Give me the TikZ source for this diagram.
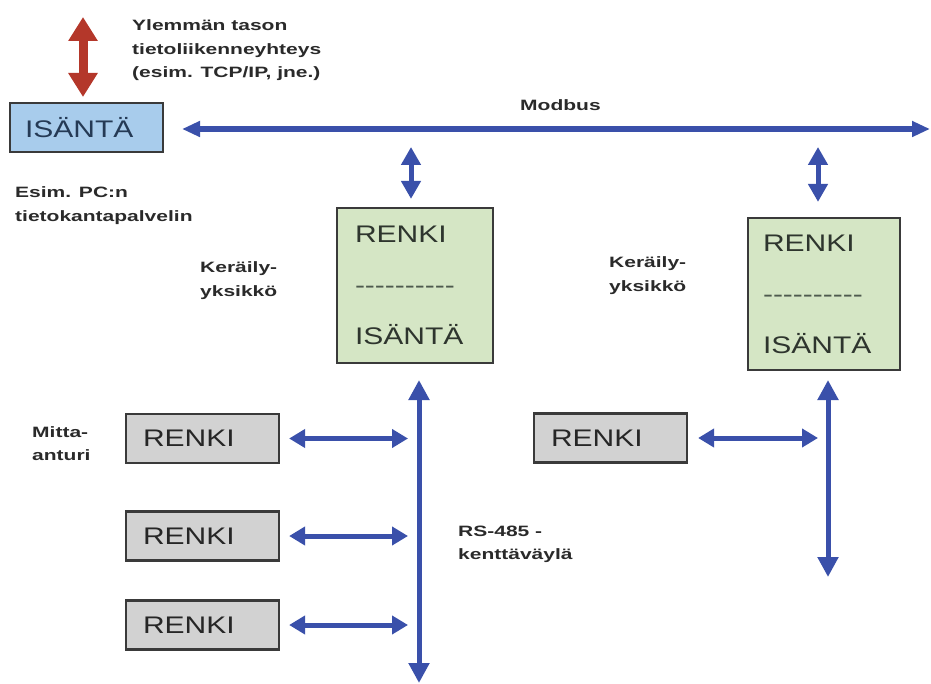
\documentclass[tikz,border=0pt]{standalone}
\usepackage{fontspec}
\setmainfont{Liberation Sans}
\newfontfamily\boxfont[FakeStretch=1.25]{Liberation Sans}
\newfontfamily\labfont[FakeStretch=1.4]{Liberation Sans}
\usetikzlibrary{arrows.meta}
\definecolor{busblue}{HTML}{3A50AA}
\definecolor{redarr}{HTML}{B4372A}
\definecolor{hostfill}{HTML}{A8CCEC}
\definecolor{hosttext}{HTML}{253A55}
\definecolor{greenfill}{HTML}{D5E6C5}
\definecolor{greentext}{HTML}{2E352E}
\definecolor{dashcol}{HTML}{4E5A4E}
\definecolor{grayfill}{HTML}{D2D2D2}
\definecolor{boxborder}{HTML}{3A3A3A}
\definecolor{labcol}{HTML}{2A2A2A}
\tikzset{
  boxbase/.style={draw=boxborder, line width=2.2pt, rectangle, align=left, inner ysep=0pt},
  hostbox/.style={boxbase, fill=hostfill, text=hosttext, font=\boxfont\fontsize{24}{29}\selectfont},
  greenbox/.style={boxbase, fill=greenfill, text=greentext, font=\boxfont\fontsize{24}{51}\selectfont},
  slavebox/.style={boxbase, fill=grayfill, text=black!85, font=\boxfont\fontsize{24}{29}\selectfont,
    minimum width=153pt, minimum height=49pt, text width=119pt, inner xsep=17pt},
  lab/.style={inner sep=0pt, text=labcol, anchor=base west, font=\labfont\bfseries\fontsize{15}{23.5}\selectfont},
  bus/.style={draw=busblue, line width=5pt, >={Triangle[width=18pt,length=16pt]}, <->},
  modbusline/.style={draw=busblue, line width=6pt, >={Triangle[width=15pt,length=18pt]}, <->},
  stub/.style={draw=busblue, line width=5pt, >={Triangle[width=19pt,length=18pt]}, <->},
  rsline/.style={draw=busblue, line width=5pt, >={Triangle[width=20pt,length=20pt]}, <->},
  uplink/.style={draw=redarr, line width=9pt, >={Triangle[width=28pt,length=24pt]}, <->},
}
\begin{document}
\begin{tikzpicture}[x=1pt,y=-1pt]
\useasboundingbox[fill=white] (0,0) rectangle (931,684);

% boxes
\node[hostbox, minimum width=153pt, minimum height=49pt, text width=123pt, inner xsep=15pt] (isanta) at (86.5,127.5) {ISÄNTÄ};
\node[greenbox, minimum width=156pt, minimum height=155pt, text width=120pt, inner xsep=18pt] (g1) at (415,285.5)
  {RENKI\\{\color{dashcol}----------}\\ISÄNTÄ};
\node[greenbox, minimum width=152pt, minimum height=152pt, text width=122pt, inner xsep=15pt] (g2) at (824,294)
  {RENKI\\{\color{dashcol}----------}\\ISÄNTÄ};
\node[slavebox] (r1) at (202.5,438.5) {RENKI};
\node[slavebox] (r2) at (202.5,536) {RENKI};
\node[slavebox] (r3) at (202.5,625) {RENKI};
\node[slavebox] (r4) at (610.5,438) {RENKI};

% labels
\node[lab] (ylem) at (132,31) {\begin{tabular}[t]{@{}l@{}}Ylemmän tason\\tietoliikenneyhteys\\(esim. TCP/IP, jne.)\end{tabular}};
\node[lab] (modbus) at (520,111) {Modbus};
\node[lab] (esim) at (15,198) {\begin{tabular}[t]{@{}l@{}}Esim. PC:n\\tietokantapalvelin\end{tabular}};
\node[lab] (ker1) at (200,273) {\begin{tabular}[t]{@{}l@{}}Keräily-\\yksikkö\end{tabular}};
\node[lab] (ker2) at (609,268) {\begin{tabular}[t]{@{}l@{}}Keräily-\\yksikkö\end{tabular}};
\node[lab] (mitta) at (32,437) {\begin{tabular}[t]{@{}l@{}}Mitta-\\anturi\end{tabular}};
\node[lab] (rs) at (458,536) {\begin{tabular}[t]{@{}l@{}}RS-485 -\\kenttäväylä\end{tabular}};

% coordinates
\coordinate (rtop) at (83,17);
\coordinate (rbot) at (83,97);
\coordinate (mbL) at (182,129);
\coordinate (mbR) at (930,129);
\coordinate (v1t) at (419,380);
\coordinate (v1b) at (419,683);
\coordinate (v2t) at (828,380);
\coordinate (v2b) at (828,577);

% connectors
\draw[uplink] (rbot) -- (rtop);
\draw[modbusline] (mbL) -- (mbR);
\draw[stub] ([xshift=-4pt,yshift=8pt]g1.north) -- ([xshift=-4pt,yshift=-18pt]g1.north |- mbL);
\draw[stub] ([xshift=-6pt,yshift=15pt]g2.north) -- ([xshift=-6pt,yshift=-18pt]g2.north |- mbL);
\draw[rsline] (v1t) -- (v1b);
\draw[rsline] (v2t) -- (v2b);
\draw[bus] ([xshift=9pt]r1.east) -- ([xshift=-11pt]r1.east -| v1t);
\draw[bus] ([xshift=9pt]r2.east) -- ([xshift=-11pt]r2.east -| v1t);
\draw[bus] ([xshift=9pt]r3.east) -- ([xshift=-11pt]r3.east -| v1t);
\draw[bus] ([xshift=10pt]r4.east) -- ([xshift=-10pt]r4.east -| v2t);
\end{tikzpicture}
\end{document}
